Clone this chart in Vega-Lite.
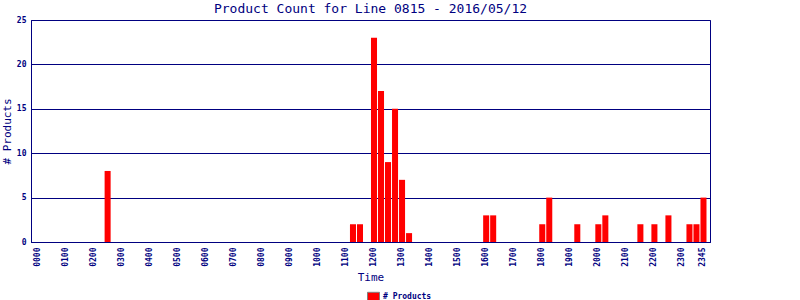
{
  "$schema": "https://vega.github.io/schema/vega-lite/v6.json",
  "width": 679,
  "height": 222,
  "autosize": "none",
  "padding": {"left": 31, "top": 20, "right": 90, "bottom": 58},
  "background": "white",
  "title": {"text": "Product Count for Line 0815 - 2016/05/12", "font": "DejaVu Sans Mono", "fontSize": 13, "fontWeight": "normal", "color": "#000080", "offset": 0, "anchor": "middle"},
  "data": {"values": [
    {"time": "0000", "count": 0}, {"time": "0015", "count": 0}, {"time": "0030", "count": 0}, {"time": "0045", "count": 0},
    {"time": "0100", "count": 0}, {"time": "0115", "count": 0}, {"time": "0130", "count": 0}, {"time": "0145", "count": 0},
    {"time": "0200", "count": 0}, {"time": "0215", "count": 0}, {"time": "0230", "count": 8}, {"time": "0245", "count": 0},
    {"time": "0300", "count": 0}, {"time": "0315", "count": 0}, {"time": "0330", "count": 0}, {"time": "0345", "count": 0},
    {"time": "0400", "count": 0}, {"time": "0415", "count": 0}, {"time": "0430", "count": 0}, {"time": "0445", "count": 0},
    {"time": "0500", "count": 0}, {"time": "0515", "count": 0}, {"time": "0530", "count": 0}, {"time": "0545", "count": 0},
    {"time": "0600", "count": 0}, {"time": "0615", "count": 0}, {"time": "0630", "count": 0}, {"time": "0645", "count": 0},
    {"time": "0700", "count": 0}, {"time": "0715", "count": 0}, {"time": "0730", "count": 0}, {"time": "0745", "count": 0},
    {"time": "0800", "count": 0}, {"time": "0815", "count": 0}, {"time": "0830", "count": 0}, {"time": "0845", "count": 0},
    {"time": "0900", "count": 0}, {"time": "0915", "count": 0}, {"time": "0930", "count": 0}, {"time": "0945", "count": 0},
    {"time": "1000", "count": 0}, {"time": "1015", "count": 0}, {"time": "1030", "count": 0}, {"time": "1045", "count": 0},
    {"time": "1100", "count": 0}, {"time": "1115", "count": 2}, {"time": "1130", "count": 2}, {"time": "1145", "count": 0},
    {"time": "1200", "count": 23}, {"time": "1215", "count": 17}, {"time": "1230", "count": 9}, {"time": "1245", "count": 15},
    {"time": "1300", "count": 7}, {"time": "1315", "count": 1}, {"time": "1330", "count": 0}, {"time": "1345", "count": 0},
    {"time": "1400", "count": 0}, {"time": "1415", "count": 0}, {"time": "1430", "count": 0}, {"time": "1445", "count": 0},
    {"time": "1500", "count": 0}, {"time": "1515", "count": 0}, {"time": "1530", "count": 0}, {"time": "1545", "count": 0},
    {"time": "1600", "count": 3}, {"time": "1615", "count": 3}, {"time": "1630", "count": 0}, {"time": "1645", "count": 0},
    {"time": "1700", "count": 0}, {"time": "1715", "count": 0}, {"time": "1730", "count": 0}, {"time": "1745", "count": 0},
    {"time": "1800", "count": 2}, {"time": "1815", "count": 5}, {"time": "1830", "count": 0}, {"time": "1845", "count": 0},
    {"time": "1900", "count": 0}, {"time": "1915", "count": 2}, {"time": "1930", "count": 0}, {"time": "1945", "count": 0},
    {"time": "2000", "count": 2}, {"time": "2015", "count": 3}, {"time": "2030", "count": 0}, {"time": "2045", "count": 0},
    {"time": "2100", "count": 0}, {"time": "2115", "count": 0}, {"time": "2130", "count": 2}, {"time": "2145", "count": 0},
    {"time": "2200", "count": 2}, {"time": "2215", "count": 0}, {"time": "2230", "count": 3}, {"time": "2245", "count": 0},
    {"time": "2300", "count": 0}, {"time": "2315", "count": 2}, {"time": "2330", "count": 2}, {"time": "2345", "count": 5}
  ]},
  "mark": {"type": "bar"},
  "encoding": {
    "x": {
      "field": "time", "type": "ordinal", "sort": null,
      "scale": {"paddingInner": 0.14, "paddingOuter": 0.5},
      "axis": {
        "values": ["0000","0100","0200","0300","0400","0500","0600","0700","0800","0900","1000","1100","1200","1300","1400","1500","1600","1700","1800","1900","2000","2100","2200","2300","2345"],
        "labelAngle": -90, "labelFontSize": 8, "labelFontWeight": "bold", "labelPadding": 5, "ticks": false,
        "title": "Time", "titlePadding": 5
      }
    },
    "y": {
      "field": "count", "type": "quantitative",
      "scale": {"domain": [0, 25], "nice": false},
      "axis": {"values": [0, 5, 10, 15, 20, 25], "title": "# Products", "labelFontSize": 8, "labelFontWeight": "bold", "labelPadding": 5, "ticks": false, "titlePadding": 4}
    },
    "color": {
      "datum": "# Products",
      "scale": {"range": ["#ff0000"]},
      "legend": {
        "title": null, "orient": "none", "legendX": 336, "legendY": 270,
        "symbolType": "M-1,-0.7H1V0.7H-1Z", "symbolSize": 144,
        "symbolStrokeColor": "#808080", "symbolStrokeWidth": 1, "symbolOpacity": 1,
        "labelFont": "DejaVu Sans Mono", "labelFontSize": 8, "labelFontWeight": "bold", "labelColor": "#000080", "labelOffset": 3
      }
    }
  },
  "config": {
    "view": {"stroke": "#000080", "strokeWidth": 1},
    "axis": {
      "labelFont": "DejaVu Sans Mono", "labelColor": "#000080",
      "titleFont": "DejaVu Sans Mono", "titleColor": "#000080", "titleFontSize": 11, "titleFontWeight": "normal",
      "domainColor": "#000080", "domainWidth": 1,
      "gridColor": "#000080", "gridOpacity": 1, "gridWidth": 1
    },
    "axisX": {"grid": false},
    "axisY": {"grid": true}
  }
}
